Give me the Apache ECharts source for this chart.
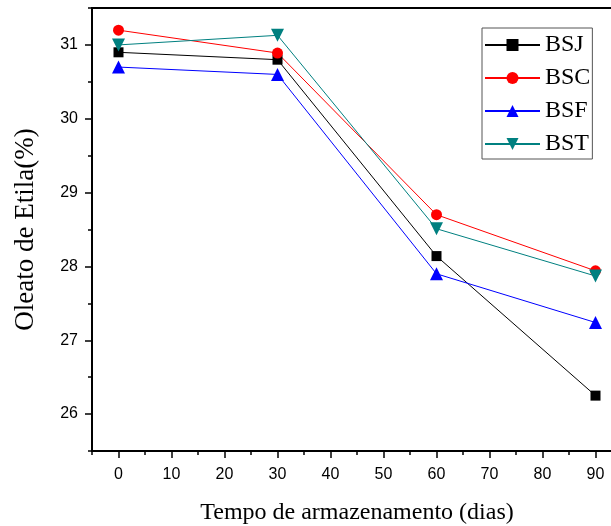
<!DOCTYPE html>
<html>
<head>
<meta charset="utf-8">
<script src="https://cdn.jsdelivr.net/npm/echarts@6/dist/echarts.min.js"></script>
<style>
  html, body { margin: 0; padding: 0; background: #fff; }
  #chart { width: 611px; height: 526px; }
</style>
</head>
<body>
<div id="chart"></div>
<script>
// Storage time (days)
const days = [0, 30, 60, 90];

// Ethyl oleate content (%) per biodiesel sample
const bsj = [30.90, 30.80, 28.14, 26.25];
const bsc = [31.20, 30.89, 28.70, 27.94];
const bsf = [30.70, 30.60, 27.90, 27.24];
const bst = [31.00, 31.13, 28.51, 27.87];

// Labelled (major) ticks and unlabelled (minor) ticks
const xTicks = [0, 10, 20, 30, 40, 50, 60, 70, 80, 90];
const xMinorTicks = [-5, 5, 15, 25, 35, 45, 55, 65, 75, 85];
const yTicks = [26, 27, 28, 29, 30, 31];
const yMinorTicks = [25.5, 26.5, 27.5, 28.5, 29.5, 30.5, 31.5];

const serif = '"Liberation Serif", "Times New Roman", serif';
const sans = '"Liberation Sans", Arial, sans-serif';

function pairs(ys) {
  return days.map((d, i) => [d, ys[i]]);
}

function lineSeries(name, ys, color, symbol, size, rotate) {
  return {
    name: name,
    type: 'line',
    xAxisIndex: 0,
    yAxisIndex: 0,
    data: pairs(ys),
    symbol: symbol,
    symbolSize: size,
    symbolRotate: rotate || 0,
    showAllSymbol: true,
    lineStyle: { color: color, width: 1 },
    itemStyle: { color: color },
    emphasis: { disabled: true },
    animation: false
  };
}

const chart = echarts.init(document.getElementById('chart'), null, { renderer: 'canvas' });

const xRange = { min: -5, max: 95 };
const yRange = { min: 25.5, max: 31.5 };

chart.setOption({
  backgroundColor: '#ffffff',
  animation: false,
  grid: {
    left: 92,
    top: 8,
    width: 530,
    height: 443,
    containLabel: false,
    outerBoundsMode: 'none',
    show: true,
    borderColor: '#000',
    borderWidth: 2,
    backgroundColor: 'transparent'
  },
  legend: {
    orient: 'vertical',
    left: 482,
    top: 28,
    padding: [5, 2, 3, 2],
    itemWidth: 55,
    itemHeight: 15,
    itemGap: 9,
    borderColor: '#555',
    borderWidth: 1,
    backgroundColor: '#fff',
    textStyle: { fontFamily: serif, fontSize: 24, color: '#000' },
    data: ['BSJ', 'BSC', 'BSF', 'BST']
  },
  xAxis: [
    {
      type: 'value',
      position: 'bottom',
      min: xRange.min,
      max: xRange.max,
      name: 'Tempo de armazenamento (dias)',
      nameLocation: 'middle',
      nameGap: 50,
      nameTextStyle: { fontFamily: serif, fontSize: 24, color: '#000' },
      axisLine: { show: true, onZero: false, lineStyle: { color: '#000', width: 2 } },
      axisTick: { show: true, inside: false, length: 7, customValues: xTicks, lineStyle: { color: '#000', width: 1.5 } },
      axisLabel: { show: true, customValues: xTicks, margin: 16, fontFamily: sans, fontSize: 16, color: '#000' },
      splitLine: { show: false }
    },
    {
      type: 'value',
      position: 'bottom',
      min: xRange.min,
      max: xRange.max,
      axisLine: { show: false, onZero: false },
      axisTick: { show: true, inside: false, length: 4, customValues: xMinorTicks, lineStyle: { color: '#000', width: 1.5 } },
      axisLabel: { show: false },
      splitLine: { show: false }
    }
  ],
  yAxis: [
    {
      type: 'value',
      position: 'left',
      min: yRange.min,
      max: yRange.max,
      name: 'Oleato de Etila(%)',
      nameLocation: 'middle',
      nameGap: 53,
      nameRotate: 90,
      nameTextStyle: { fontFamily: serif, fontSize: 27, color: '#000' },
      axisLine: { show: true, onZero: false, lineStyle: { color: '#000', width: 2 } },
      axisTick: { show: true, inside: false, length: 7, customValues: yTicks, lineStyle: { color: '#000', width: 1.5 } },
      axisLabel: { show: true, customValues: yTicks, margin: 14, fontFamily: sans, fontSize: 16, color: '#000' },
      splitLine: { show: false }
    },
    {
      type: 'value',
      position: 'left',
      min: yRange.min,
      max: yRange.max,
      axisLine: { show: false, onZero: false },
      axisTick: { show: true, inside: false, length: 4, customValues: yMinorTicks, lineStyle: { color: '#000', width: 1.5 } },
      axisLabel: { show: false },
      splitLine: { show: false }
    }
  ],
  series: [
    lineSeries('BSJ', bsj, '#000000', 'rect', 10),
    lineSeries('BSC', bsc, '#ff0000', 'circle', 11),
    lineSeries('BSF', bsf, '#0000ff', 'triangle', 13),
    lineSeries('BST', bst, '#008080', 'triangle', 13, 180)
  ]
});
</script>
</body>
</html>
